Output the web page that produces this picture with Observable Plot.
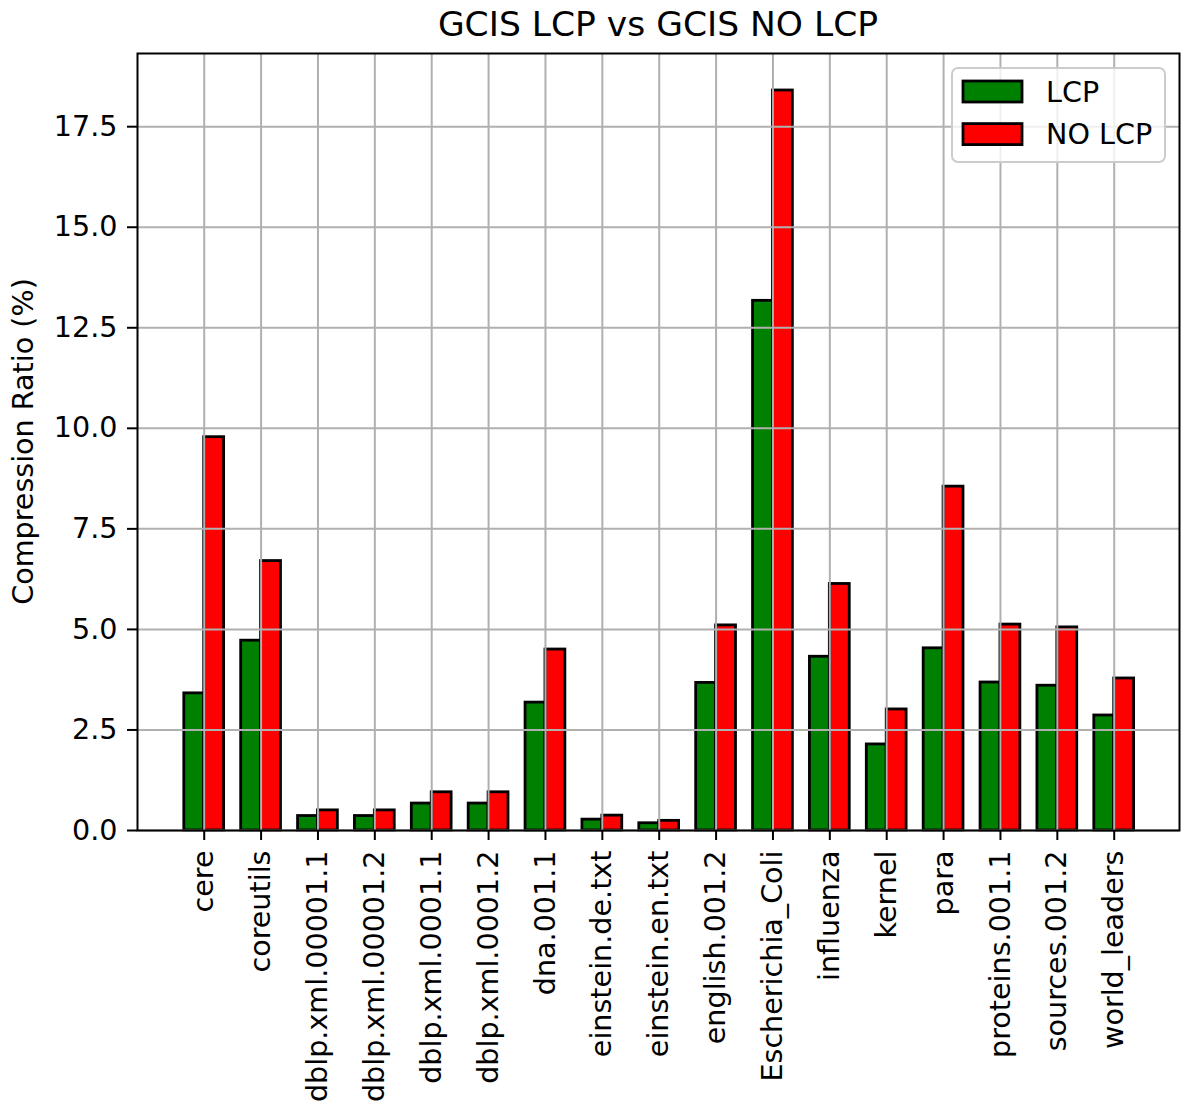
<!DOCTYPE html>
<html>
<head>
<meta charset="utf-8">
<script src="https://cdn.jsdelivr.net/npm/d3@7"></script>
<script src="https://cdn.jsdelivr.net/npm/@observablehq/plot@0.6"></script>
<style>
  html, body { margin: 0; padding: 0; background: #fff; }
  #chart svg { display: block; font-family: "DejaVu Sans", sans-serif; }
</style>
</head>
<body>
<div id="chart"></div>
<script>
const categories = ["cere", "coreutils", "dblp.xml.00001.1", "dblp.xml.00001.2", "dblp.xml.0001.1",
  "dblp.xml.0001.2", "dna.001.1", "einstein.de.txt", "einstein.en.txt", "english.001.2",
  "Escherichia_Coli", "influenza", "kernel", "para", "proteins.001.1", "sources.001.2", "world_leaders"];
const lcp   = [3.41, 4.72, 0.36, 0.36, 0.67, 0.67, 3.18, 0.27, 0.18, 3.67, 13.17, 4.32, 2.14, 4.53, 3.68, 3.60, 2.86];
const noLcp = [9.78, 6.70, 0.50, 0.50, 0.95, 0.95, 4.50, 0.37, 0.24, 5.10, 18.40, 6.13, 3.01, 8.55, 5.12, 5.05, 3.78];
const seriesNames = ["LCP", "NO LCP"];
const seriesColors = ["green", "red"];
const yTicks = [0, 2.5, 5, 7.5, 10, 12.5, 15, 17.5];
const barWidth = 0.35;

const rows = [];
categories.forEach((c, i) => {
  rows.push({i, series: "LCP", value: lcp[i], x1: i - barWidth, x2: i});
  rows.push({i, series: "NO LCP", value: noLcp[i], x1: i, x2: i + barWidth});
});

const W = 1182, H = 1111;
const FS = 28.6;
const plot = Plot.plot({
  width: W,
  height: H,
  marginLeft: 137,
  marginRight: 3,
  marginTop: 53,
  marginBottom: 281,
  style: {fontFamily: "DejaVu Sans", fontSize: FS + "px", color: "black", background: "white"},
  x: {type: "linear", domain: [-1.173, 17.148]},
  y: {domain: [0, 19.32]},
  color: {domain: seriesNames, range: seriesColors},
  marks: [
    Plot.rectY(rows, {x1: "x1", x2: "x2", y: "value", fill: "series", stroke: "black", strokeWidth: 2.8}),
    Plot.gridX(d3.range(categories.length), {stroke: "#b0b0b0", strokeOpacity: 1, strokeWidth: 2}),
    Plot.gridY(yTicks, {stroke: "#b0b0b0", strokeOpacity: 1, strokeWidth: 2}),
    Plot.axisX(d3.range(categories.length), {
      tickFormat: i => categories[i], tickRotate: -90, tickSize: 10, tickPadding: 10,
      strokeWidth: 2, label: null, fontSize: FS
    }),
    Plot.axisY(yTicks, {
      tickFormat: d => d.toFixed(1), tickSize: 10, tickPadding: 10,
      strokeWidth: 2, label: null, fontSize: FS
    }),
    Plot.frame({stroke: "black", strokeWidth: 2})
  ]
});

const svg = d3.select(plot);
// title
svg.append("text")
  .attr("x", (137 + (W - 3)) / 2).attr("y", 36)
  .attr("text-anchor", "middle")
  .attr("font-size", 34.5).attr("fill", "black")
  .text("GCIS LCP vs GCIS NO LCP");
// y label
svg.append("text")
  .attr("transform", `translate(33, ${(53 + 830) / 2}) rotate(-90)`)
  .attr("text-anchor", "middle")
  .attr("font-size", FS).attr("fill", "black")
  .text("Compression Ratio (%)");
// legend
const lg = svg.append("g");
lg.append("rect").attr("x", 952).attr("y", 68).attr("width", 213).attr("height", 94)
  .attr("rx", 6).attr("fill", "white").attr("fill-opacity", 0.8).attr("stroke", "#cccccc").attr("stroke-width", 2);
seriesNames.forEach((name, k) => {
  const yy = 81 + k * 42.6;
  lg.append("rect").attr("x", 963).attr("y", yy).attr("width", 59).attr("height", 21)
    .attr("fill", seriesColors[k]).attr("stroke", "black").attr("stroke-width", 2.8);
  lg.append("text").attr("x", 1046).attr("y", yy + 20.5)
    .attr("text-anchor", "start")
    .attr("font-size", FS).attr("fill", "black").text(name);
});

document.getElementById("chart").appendChild(plot);
</script>
</body>
</html>
